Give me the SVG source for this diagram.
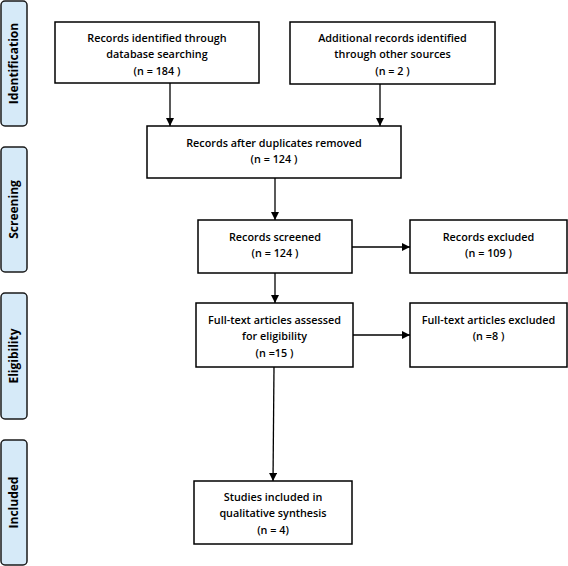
<svg xmlns="http://www.w3.org/2000/svg" width="568" height="566" viewBox="0 0 568 566">
<style>
.box{fill:#fff;stroke:#000;stroke-width:1.5}
.side{fill:#d6eaf8;stroke:#1a1a1a;stroke-width:1.5}
.t{font-family:"Open Sans","Liberation Sans",sans-serif;font-size:10.8px;font-weight:600;fill:#000;text-anchor:middle}
.s{font-family:"Open Sans","Liberation Sans",sans-serif;font-size:12px;font-weight:bold;fill:#000;text-anchor:middle}
.c{stroke:#000;stroke-width:1.3;fill:none;marker-end:url(#ah)}
</style>
<defs>
<marker id="ah" markerWidth="8" markerHeight="8" refX="8" refY="4" orient="auto" markerUnits="userSpaceOnUse">
<path d="M0,0 L8,4 L0,8 Z" fill="#000"/>
</marker>
</defs>
<g id="side-identification"><rect class="side" x="1" y="1" width="26" height="125" rx="4"/><text class="s" transform="translate(18,63.5) rotate(-90)">Identification</text></g>
<g id="side-screening"><rect class="side" x="1" y="147" width="26" height="125" rx="4"/><text class="s" transform="translate(18,209.5) rotate(-90)">Screening</text></g>
<g id="side-eligibility"><rect class="side" x="1" y="293" width="26" height="126" rx="4"/><text class="s" transform="translate(18,356) rotate(-90)">Eligibility</text></g>
<g id="side-included"><rect class="side" x="1" y="440" width="26" height="125" rx="4"/><text class="s" transform="translate(18,502.5) rotate(-90)">Included</text></g>

<g id="connectors">
<line class="c" x1="170" y1="83" x2="170" y2="126"/>
<line class="c" x1="380" y1="84" x2="380" y2="126"/>
<line class="c" x1="275" y1="178" x2="275" y2="220"/>
<line class="c" x1="275" y1="273" x2="275" y2="303"/>
<line class="c" x1="352" y1="247" x2="410" y2="247"/>
<line class="c" x1="353" y1="335" x2="410" y2="335"/>
<line class="c" x1="274" y1="367" x2="273" y2="481"/>
</g>

<g id="n1"><rect class="box" x="55" y="22" width="204" height="61"/>
<text class="t" x="157" y="42">Records identified through</text>
<text class="t" x="157" y="58">database searching</text>
<text class="t" x="157" y="75">(n = 184 )</text></g>
<g id="n2"><rect class="box" x="290" y="22" width="205" height="62"/>
<text class="t" x="392.5" y="42">Additional records identified</text>
<text class="t" x="392.5" y="58">through other sources</text>
<text class="t" x="392.5" y="75">(n = 2 )</text></g>
<g id="n3"><rect class="box" x="147" y="126" width="254" height="52"/>
<text class="t" x="274" y="147">Records after duplicates removed</text>
<text class="t" x="274" y="163">(n = 124 )</text></g>
<g id="n4"><rect class="box" x="198" y="220" width="154" height="53"/>
<text class="t" x="275" y="241">Records screened</text>
<text class="t" x="275" y="257">(n = 124 )</text></g>
<g id="n5"><rect class="box" x="410" y="220" width="157" height="53"/>
<text class="t" x="488.5" y="241">Records excluded</text>
<text class="t" x="488.5" y="257">(n = 109 )</text></g>
<g id="n6"><rect class="box" x="196" y="303" width="157" height="64"/>
<text class="t" x="274.5" y="324">Full-text articles assessed</text>
<text class="t" x="274.5" y="340">for eligibility</text>
<text class="t" x="274.5" y="357">(n =15 )</text></g>
<g id="n7"><rect class="box" x="410" y="303" width="157" height="64"/>
<text class="t" x="488.5" y="324">Full-text articles excluded</text>
<text class="t" x="488.5" y="340">(n =8 )</text></g>
<g id="n8"><rect class="box" x="194" y="481" width="158" height="63"/>
<text class="t" x="273" y="501">Studies included in</text>
<text class="t" x="273" y="517">qualitative synthesis</text>
<text class="t" x="273" y="534">(n = 4)</text></g>
</svg>
